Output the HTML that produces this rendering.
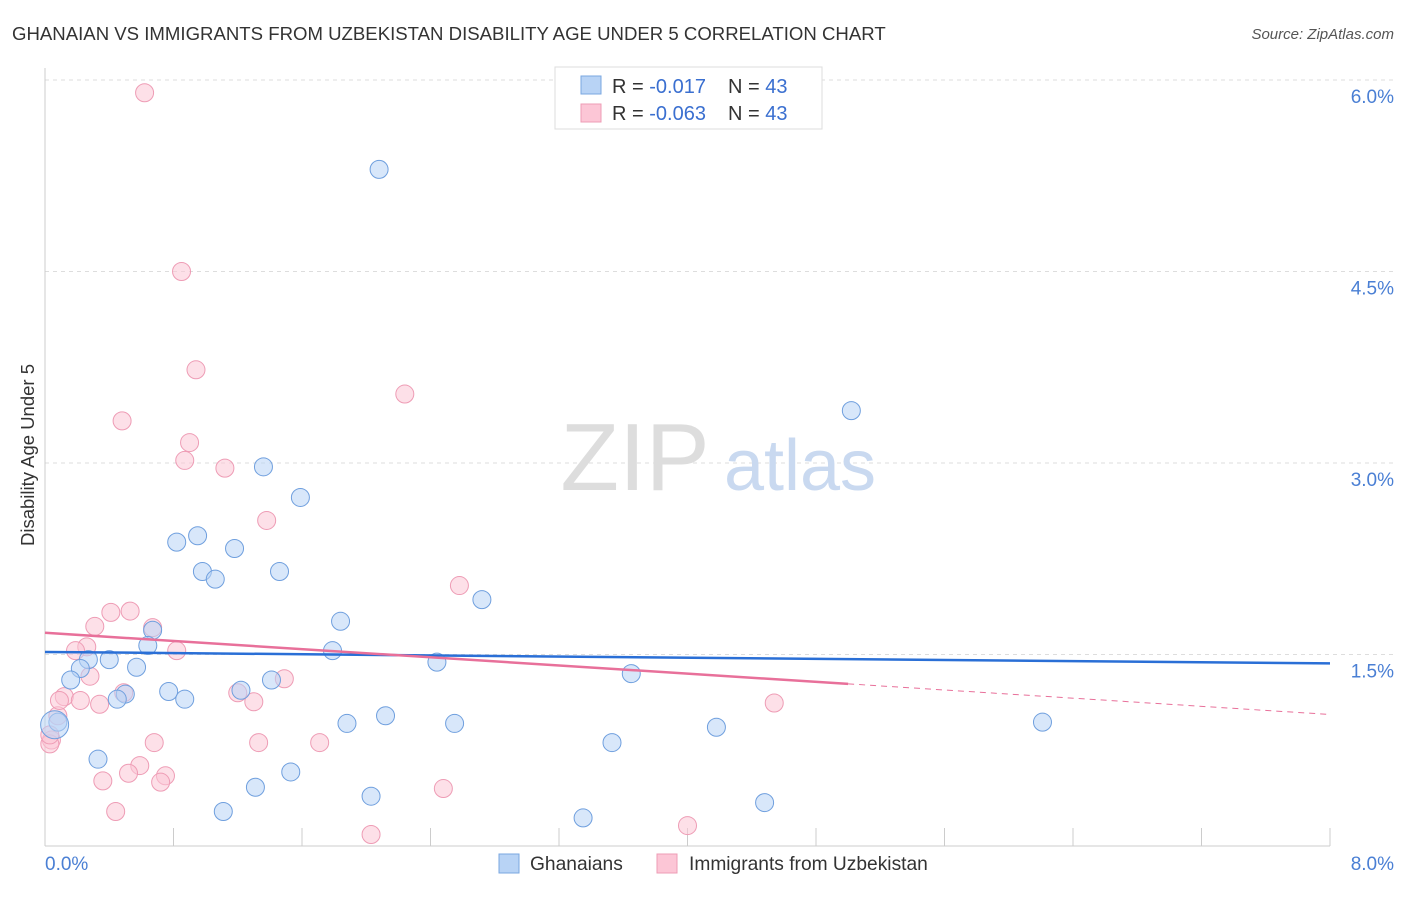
<!DOCTYPE html>
<html><head><meta charset="utf-8"><style>
body{margin:0;background:#fff;font-family:"Liberation Sans",sans-serif;}
svg text{font-family:"Liberation Sans",sans-serif;}
</style></head><body>
<svg id="chart" width="1406" height="892" xmlns="http://www.w3.org/2000/svg">
<text x="12" y="40" font-size="18.6" fill="#333">GHANAIAN VS IMMIGRANTS FROM UZBEKISTAN DISABILITY AGE UNDER 5 CORRELATION CHART</text>
<text x="1394" y="39" font-size="15" fill="#555" text-anchor="end" font-style="italic">Source: ZipAtlas.com</text>
<g id="grid"></g>
<g><text x="635" y="490" font-size="96" fill="#ddd" font-family="Liberation Serif" text-anchor="middle">ZIP</text><text x="800" y="490" font-size="72" fill="#c9d9f0" text-anchor="middle">atlas</text></g>
<line x1="45" y1="68" x2="45" y2="846" stroke="#ccc"/>
<line x1="45" y1="846" x2="1330" y2="846" stroke="#ccc"/>
<g id="xticks"></g>
<g id="yticks"></g>
<text x="45" y="870" font-size="19" fill="#4a7fd4">0.0%</text>
<text x="1394" y="870" font-size="19" fill="#4a7fd4" text-anchor="end">8.0%</text>
<text transform="translate(34,455) rotate(-90)" font-size="18.5" fill="#333" text-anchor="middle">Disability Age Under 5</text>
<g id="pts"></g>
<g id="trends"></g>
<g>
<rect x="555" y="67" width="267" height="62" fill="#fff" stroke="#ddd"/>
<rect x="581" y="76" width="20" height="18" fill="#b8d3f5" stroke="#7aa7e0"/>
<rect x="581" y="104" width="20" height="18" fill="#fcc6d6" stroke="#ee9cb5"/>
<text x="612" y="93" font-size="20" fill="#333">R = <tspan fill="#3a6fd0"> -0.017</tspan><tspan dx="22">N = </tspan><tspan fill="#3a6fd0">43</tspan></text>
<text x="612" y="120" font-size="20" fill="#333">R = <tspan fill="#3a6fd0">-0.063</tspan><tspan dx="22">N = </tspan><tspan fill="#3a6fd0">43</tspan></text>
</g>
<g>
<rect x="499" y="854" width="20" height="19" fill="#b8d3f5" stroke="#7aa7e0"/>
<text x="530" y="870" font-size="19.2" fill="#333">Ghanaians</text>
<rect x="657" y="854" width="20" height="19" fill="#fcc6d6" stroke="#ee9cb5"/>
<text x="689" y="870" font-size="19.2" fill="#333">Immigrants from Uzbekistan</text>
</g>
</svg>
<script>
const yTicks=[1.5,3.0,4.5,6.0];
const xTickCount=10;
const blueX=[2.08,5.02,1.36,1.59,0.95,0.82,1.18,1.46,0.98,1.06,2.72,1.84,0.67,0.64,1.79,0.40,2.44,0.27,0.22,0.57,3.65,0.16,1.41,0.77,1.22,0.50,0.87,0.45,2.12,1.88,2.55,6.21,4.18,0.08,3.53,0.33,1.53,1.31,2.03,4.48,1.11,3.35,0.06];
const blueY=[5.30,3.41,2.97,2.73,2.43,2.38,2.33,2.15,2.15,2.09,1.93,1.76,1.69,1.57,1.53,1.46,1.44,1.46,1.39,1.40,1.35,1.30,1.30,1.21,1.22,1.19,1.15,1.15,1.02,0.96,0.96,0.97,0.93,0.97,0.81,0.68,0.58,0.46,0.39,0.34,0.27,0.22,0.95];
const pinkX=[0.62,0.85,0.94,2.24,0.48,0.90,0.87,1.12,1.38,2.58,0.41,0.53,0.31,0.67,0.82,0.26,0.19,0.28,1.49,0.49,1.20,0.12,0.22,0.34,1.30,4.54,0.08,0.04,0.03,0.68,1.33,1.71,0.59,0.52,0.75,0.36,0.72,2.48,0.44,2.03,4.00,0.03,0.09];
const pinkY=[5.90,4.50,3.73,3.54,3.33,3.16,3.02,2.96,2.55,2.04,1.83,1.84,1.72,1.71,1.53,1.56,1.53,1.33,1.31,1.20,1.20,1.17,1.14,1.11,1.13,1.12,1.02,0.83,0.80,0.81,0.81,0.81,0.63,0.57,0.55,0.51,0.50,0.45,0.27,0.09,0.16,0.87,1.14];
const blueTrend=[[0,1.52],[8,1.43]];
const pinkTrend=[[0,1.67],[5.0,1.27],[8,1.03]];
const X0=45,X1=1330,Y0=846,YSC=127.67;
const sx=v=>X0+v/8*(X1-X0), sy=v=>Y0-v*YSC;
const NS="http://www.w3.org/2000/svg";
function mk(t,a,p){const e=document.createElementNS(NS,t);for(const k in a)e.setAttribute(k,a[k]);p.appendChild(e);return e;}
const grid=document.getElementById('grid'),yt=document.getElementById('yticks'),xt=document.getElementById('xticks');
yTicks.forEach(v=>{
 const l=mk('line',{x1:X0,x2:1394,y1:sy(v),y2:sy(v),stroke:'#ddd','stroke-dasharray':'4,4'},grid);
 
 
 const t=mk('text',{x:1394,y:sy(v)+23,'font-size':19,fill:'#4a7fd4','text-anchor':'end'},yt);
 t.textContent=v.toFixed(1)+'%';
 
 
});
for(let i=1;i<=xTickCount;i++){
 const x=X0+i*(X1-X0)/xTickCount;
 const l=mk('line',{x1:x,x2:x,y1:828,y2:846,stroke:'#ccc'},xt);
 
 
}
const pts=document.getElementById('pts');
function draw(xs,ys,fill,stroke,name){
 xs.forEach((x,i)=>{
  const r=(i===xs.length-1&&name==='ghanaian-point')?14:9;
  const c=mk('circle',{cx:sx(x),cy:sy(ys[i]),r:r,fill:fill,'fill-opacity':0.55,stroke:stroke,'stroke-width':1},pts);
  
  
 });
}
draw(pinkX,pinkY,'#fcc6d6','#ee9cb5','uzbekistan-point');
draw(blueX,blueY,'#b8d3f5','#6f9fde','ghanaian-point');
const tr=document.getElementById('trends');
let b=mk('line',{x1:sx(blueTrend[0][0]),y1:sy(blueTrend[0][1]),x2:sx(blueTrend[1][0]),y2:sy(blueTrend[1][1]),stroke:'#2a6fd6','stroke-width':2.5},tr);


let p=mk('line',{x1:sx(pinkTrend[0][0]),y1:sy(pinkTrend[0][1]),x2:sx(pinkTrend[1][0]),y2:sy(pinkTrend[1][1]),stroke:'#e8709a','stroke-width':2.5},tr);


let pd=mk('line',{x1:sx(pinkTrend[1][0]),y1:sy(pinkTrend[1][1]),x2:sx(pinkTrend[2][0]),y2:sy(pinkTrend[2][1]),stroke:'#e8709a','stroke-width':1,'stroke-dasharray':'6,5'},tr);


</script>
</body></html>
